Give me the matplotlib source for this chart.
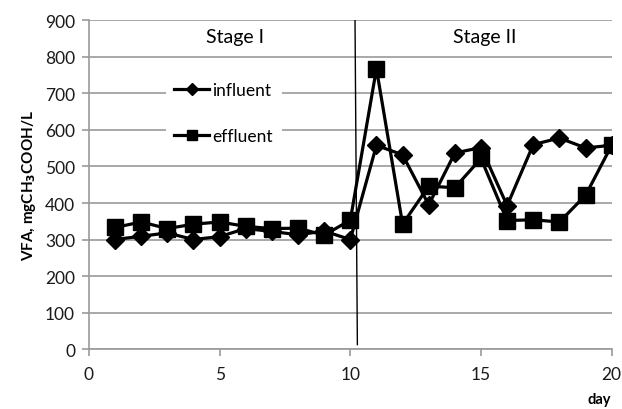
import matplotlib

matplotlib.use("Agg")

import matplotlib.pyplot as plt

days = list(range(1, 21))
influent = [300, 309, 318, 300, 308, 330, 322, 313, 323, 300,
            558, 532, 395, 537, 552, 393, 560, 578, 551, 558]
effluent = [333, 348, 330, 342, 348, 336, 330, 331, 312, 353,
            768, 342, 446, 442, 522, 352, 354, 348, 421, 558]
y_ticks = [0, 100, 200, 300, 400, 500, 600, 700, 800, 900]
x_ticks = [0, 5, 10, 15, 20]

plt.rcParams["font.family"] = ["Lato", "DejaVu Sans"]

fig = plt.figure(figsize=(6.22, 4.10), dpi=100)
ax = fig.add_axes([0.143, 0.1463, 0.8404, 0.8013])

ax.plot(days, influent, color="black", linewidth=2.3, marker="D",
        markersize=9.5, label="influent")
ax.plot(days, effluent, color="black", linewidth=2.3, marker="s",
        markersize=11, label="effluent")

# stage boundary
ax.plot([10.18, 10.27], [900, 12], color="black", linewidth=1.0)

ax.text(5.6, 855, "Stage I", ha="center", va="center", fontsize=14)
ax.text(15.15, 855, "Stage II", ha="center", va="center", fontsize=14)

ax.set_xlim(0, 20)
ax.set_ylim(0, 900)
ax.set_xticks(x_ticks)
ax.set_yticks(y_ticks)
ax.yaxis.grid(True, color="#9a9a9a", linewidth=1.2)
ax.set_axisbelow(True)
for side in ("top", "right"):
    ax.spines[side].set_visible(False)
for side in ("left", "bottom"):
    ax.spines[side].set_color("#9a9a9a")
    ax.spines[side].set_linewidth(1.2)
ax.tick_params(axis="both", colors="#9a9a9a", length=5, width=1.2,
               labelsize=12.5, labelcolor="#1a1a1a")
ax.tick_params(axis="x", pad=7)
ax.tick_params(axis="y", pad=5)

ax.set_ylabel("VFA, mgCH$_\\mathbf{3}$COOH/L", fontsize=11,
              fontweight="bold", labelpad=5)
fig.text(0.963, 0.025, "day", ha="center", va="center", fontsize=10.5,
         fontweight="bold")

leg = ax.legend(loc="upper left", bbox_to_anchor=(0.13, 0.866),
                frameon=True, fontsize=12.5, handlelength=2.0,
                handletextpad=0.2, labelspacing=1.75, borderpad=0.5,
                markerscale=0.65)
leg.get_frame().set_edgecolor("none")
leg.get_frame().set_facecolor("white")
leg.get_frame().set_alpha(1.0)

fig.savefig("out.png", dpi=100)
